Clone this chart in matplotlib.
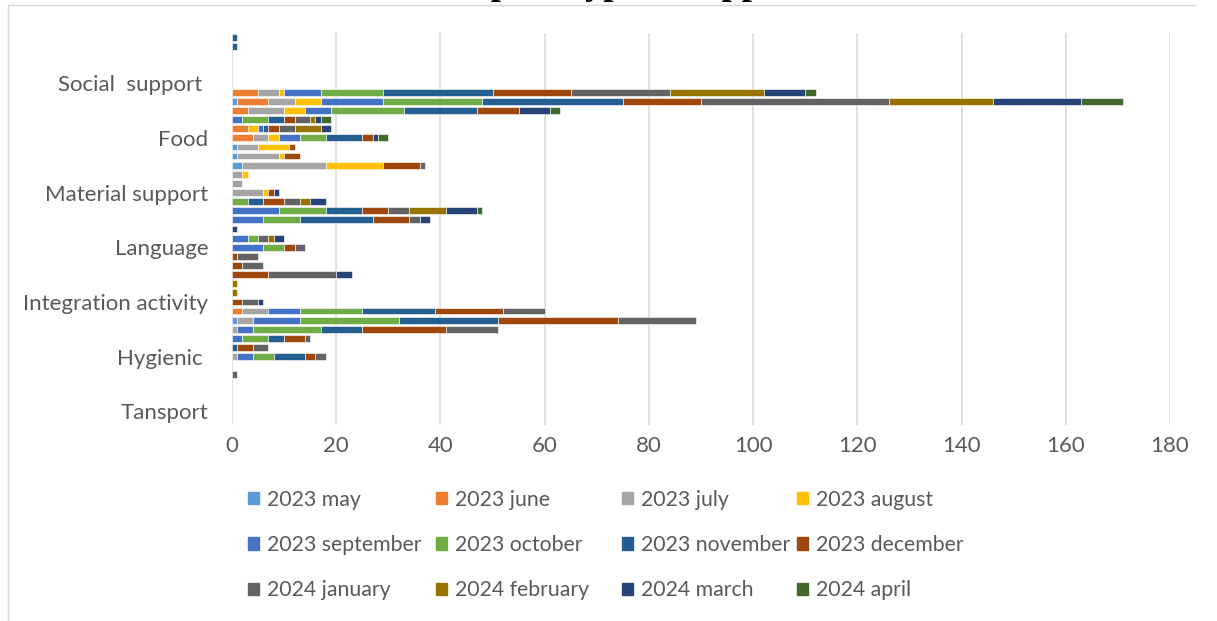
import numpy as np
import matplotlib.pyplot as plt
from matplotlib.lines import Line2D

plt.rcParams['font.family'] = ['Lato', 'DejaVu Sans']

# rows from top to bottom, only every sixth row carries a label
categories = [''] * 43
categories[5] = 'Social  support '
categories[11] = 'Food'
categories[17] = 'Material support'
categories[23] = 'Language'
categories[29] = 'Integration activity'
categories[35] = 'Hygienic '
categories[41] = 'Tansport'

months = ['2023 may', '2023 june', '2023 july', '2023 august',
          '2023 september', '2023 october', '2023 november', '2023 december',
          '2024 january', '2024 february', '2024 march', '2024 april']

may = [0, 0, 0, 0, 0, 0,  0, 1, 0, 0, 0, 0,  1, 1, 2, 0, 0, 0,
       0, 0, 0, 0, 0, 0,  0, 0, 0, 0, 0, 0,  0, 1, 0, 0, 0, 0,  0, 0, 0, 0, 0, 0, 0]
june = [0, 0, 0, 0, 0, 0,  5, 6, 3, 0, 3, 4,  0, 0, 0, 0, 0, 0,
        0, 0, 0, 0, 0, 0,  0, 0, 0, 0, 0, 0,  2, 0, 0, 0, 0, 0,  0, 0, 0, 0, 0, 0, 0]
july = [0, 0, 0, 0, 0, 0,  4, 5, 7, 0, 0, 3,  4, 8, 16, 2, 2, 6,
        0, 0, 0, 0, 0, 0,  0, 0, 0, 0, 0, 0,  5, 3, 1, 0, 0, 1,  0, 0, 0, 0, 0, 0, 0]
august = [0, 0, 0, 0, 0, 0,  1, 5, 4, 0, 2, 2,  6, 1, 11, 1, 0, 1,
          0, 0, 0, 0, 0, 0,  0, 0, 0, 0, 0, 0,  0, 0, 0, 0, 0, 0,  0, 0, 0, 0, 0, 0, 0]
september = [0, 0, 0, 0, 0, 0,  7, 12, 5, 2, 1, 4,  0, 0, 0, 0, 0, 0,
             0, 9, 6, 0, 3, 6,  0, 0, 0, 0, 0, 0,  6, 9, 3, 2, 0, 3,  0, 0, 0, 0, 0, 0, 0]
october = [0, 0, 0, 0, 0, 0,  12, 19, 14, 5, 0, 5,  0, 0, 0, 0, 0, 0,
           3, 9, 7, 0, 2, 4,  0, 0, 0, 0, 0, 0,  12, 19, 13, 5, 0, 4,  0, 0, 0, 0, 0, 0, 0]
november = [1, 1, 0, 0, 0, 0,  21, 27, 14, 3, 1, 7,  0, 0, 0, 0, 0, 0,
            3, 7, 14, 0, 0, 0,  0, 0, 0, 0, 0, 0,  14, 19, 8, 3, 1, 6,  0, 0, 0, 0, 0, 0, 0]
december = [0, 0, 0, 0, 0, 0,  15, 15, 8, 2, 2, 2,  1, 3, 7, 0, 0, 1,
            4, 5, 7, 0, 0, 2,  1, 2, 7, 0, 0, 2,  13, 23, 16, 4, 3, 2,  0, 0, 0, 0, 0, 0, 0]
january = [0, 0, 0, 0, 0, 0,  19, 36, 0, 3, 3, 0,  0, 0, 1, 0, 0, 0,
           3, 4, 2, 0, 2, 2,  4, 4, 13, 0, 0, 3,  8, 15, 10, 1, 3, 2,  0, 1, 0, 0, 0, 0, 0]
february = [0, 0, 0, 0, 0, 0,  18, 20, 0, 1, 5, 0,  0, 0, 0, 0, 0, 0,
            2, 7, 0, 0, 1, 0,  0, 0, 0, 1, 1, 0,  0, 0, 0, 0, 0, 0,  0, 0, 0, 0, 0, 0, 0]
march = [0, 0, 0, 0, 0, 0,  8, 17, 6, 1, 2, 1,  0, 0, 0, 0, 0, 1,
         3, 6, 2, 1, 2, 0,  0, 0, 3, 0, 0, 1,  0, 0, 0, 0, 0, 0,  0, 0, 0, 0, 0, 0, 0]
april = [0, 0, 0, 0, 0, 0,  2, 8, 2, 2, 0, 2,  0, 0, 0, 0, 0, 0,
         0, 1, 0, 0, 0, 0,  0, 0, 0, 0, 0, 0,  0, 0, 0, 0, 0, 0,  0, 0, 0, 0, 0, 0, 0]

series = [may, june, july, august, september, october,
          november, december, january, february, march, april]
colors = ['#5B9BD5', '#ED7D31', '#A5A5A5', '#FFC000', '#4472C4', '#70AD47',
          '#255E91', '#9E480E', '#636363', '#997300', '#264478', '#43682B']

W, H = 1217, 621
fig = plt.figure(figsize=(W / 100, H / 100), dpi=100)
ax = fig.add_axes([232 / W, 1 - 425 / H, (1170 - 232) / W, (425 - 33) / H])

y = np.arange(len(categories))
left = np.zeros(len(categories))
handles = []
for name, vals, col in zip(months, series, colors):
    v = np.array(vals, dtype=float)
    m = v > 0
    ax.barh(y[m], v[m], left=left[m], height=0.75, color=col,
            edgecolor='white', linewidth=0.4)
    handles.append(plt.Rectangle((0, 0), 1, 1, color=col, label=name))
    left += v

ax.set_xlim(0, 180)
ax.set_ylim(len(categories) - 0.5, -0.5)
ax.set_xticks(range(0, 181, 20))
ax.set_yticks(y)
ax.set_yticklabels(categories)
ax.grid(axis='x', color='#D9D9D9', linewidth=1.1)
ax.set_axisbelow(True)
for s in ax.spines.values():
    s.set_visible(False)
ax.tick_params(length=0, labelsize=16, colors='#595959')
ax.tick_params(axis='x', pad=8)
ax.tick_params(axis='y', pad=17)

# legend laid out in four columns of three
col_x = [248, 436, 622, 797]
for c in range(4):
    hs = [handles[c], handles[c + 4], handles[c + 8]]
    fig.legend(handles=hs, loc='upper left',
               bbox_to_anchor=(col_x[c] / W, 1 - 489.5 / H),
               frameon=False, fontsize=15.3, labelcolor='#595959',
               handlelength=0.52, handleheight=0.52, handletextpad=0.38,
               labelspacing=1.2, borderpad=0, borderaxespad=0)

# heading sits above the frame
fig.text(0.5, 1 + 5.5 / H, 'Groups of type of support', ha='center', va='baseline',
         fontsize=26, family='Liberation Serif', fontweight='bold', color='black')

fig.add_artist(Line2D([7.5 / W, 1196 / W], [1 - 4.5 / H] * 2,
                      transform=fig.transFigure, color='#D9D9D9', lw=1))
fig.add_artist(Line2D([7.5 / W] * 2, [0, 1 - 4.5 / H],
                      transform=fig.transFigure, color='#D9D9D9', lw=1))

fig.savefig('out.png', dpi=100)
